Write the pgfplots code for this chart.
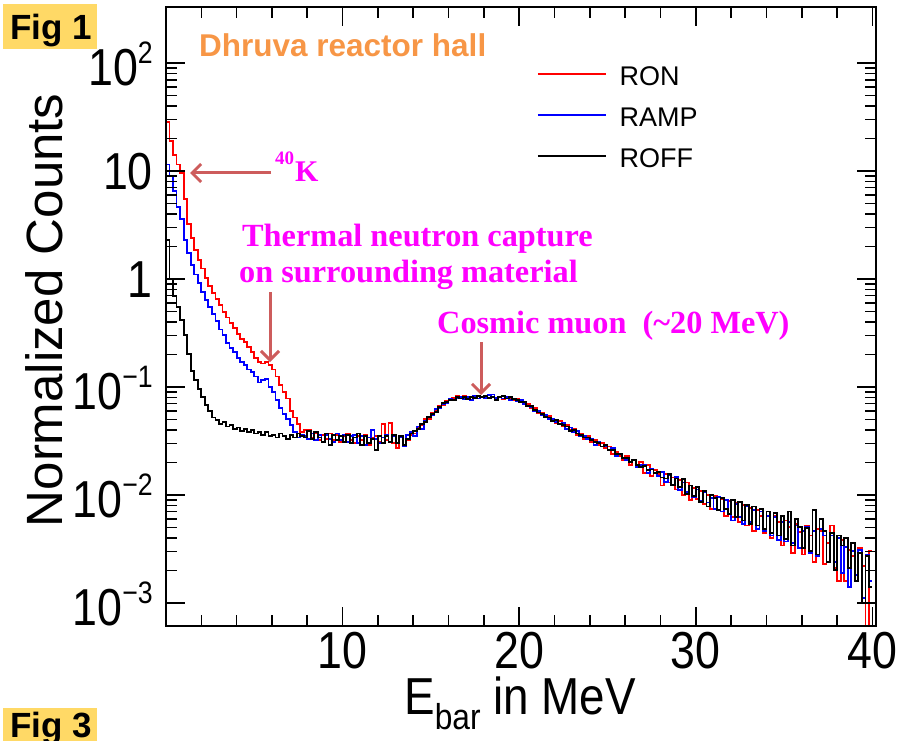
\documentclass[border=0pt]{standalone}
\usepackage{fontspec}
\setmainfont{Liberation Sans}
\newfontfamily\tms{Liberation Serif}
\usepackage{pgfplots}
\pgfplotsset{compat=1.18}
\usepackage{pgfplotstable}
\usetikzlibrary{arrows.meta}
\definecolor{ronred}{RGB}{255,0,0}
\definecolor{rampblue}{RGB}{0,0,255}
\definecolor{arrowc}{RGB}{205,92,92}
\definecolor{annmag}{RGB}{255,0,255}
\definecolor{dhorange}{RGB}{247,150,70}
\definecolor{figyel}{RGB}{255,217,102}
\newcommand\nlab[1]{\scalebox{0.86}[1]{#1}}
\newcommand\elab[1]{\raisebox{-4pt}{\scalebox{0.86}[1]{10\raisebox{22pt}{\fontsize{31}{34}\selectfont #1}}}}

\pgfplotstableread{
E ron ramp roff
0.0 28.5 11.5 2.3
0.2 19 9.0 1.0
0.4 14 6.5 0.7
0.6 11.5 4.6 0.55
0.8 9.5 3.6 0.42
1.0 5.5 2.3 0.3
1.2 3.2 1.75 0.2
1.4 2.4 1.35 0.14
1.6 1.85 1.1 0.115
1.8 1.5 0.92 0.095
2.0 1.25 0.76 0.08
2.2 1.02 0.64 0.068
2.4 0.86 0.55 0.06
2.6 0.74 0.47 0.052
2.8 0.65 0.41 0.049
3.0 0.57 0.34 0.045
3.2 0.49 0.3 0.047
3.4 0.44 0.255 0.043
3.6 0.39 0.23 0.044
3.8 0.35 0.21 0.041
4.0 0.31 0.185 0.042
4.2 0.28 0.17 0.039
4.4 0.26 0.16 0.041
4.6 0.235 0.145 0.038
4.8 0.21 0.137 0.04
5.0 0.185 0.125 0.037
5.2 0.17 0.11 0.038
5.4 0.165 0.115 0.036
5.6 0.17 0.118 0.038
5.8 0.16 0.1 0.035
6.0 0.145 0.09 0.036
6.2 0.125 0.075 0.034
6.4 0.105 0.064 0.037
6.6 0.09 0.056 0.035
6.8 0.078 0.05 0.033
7.0 0.06 0.044 0.036
7.2 0.052 0.038 0.034
7.4 0.045 0.034 0.037
7.6 0.038 0.036 0.035
7.8 0.04 0.035 0.034
8.0 0.040 0.033 0.039
8.2 0.034 0.037 0.033
8.4 0.037 0.032 0.038
8.6 0.032 0.036 0.034
8.8 0.036 0.031 0.031
9.0 0.033 0.036 0.037
9.2 0.037 0.033 0.029
9.4 0.032 0.031 0.036
9.6 0.036 0.037 0.032
9.8 0.031 0.032 0.035
10.0 0.035 0.036 0.031
10.2 0.037 0.031 0.036
10.4 0.032 0.035 0.030
10.6 0.030 0.036 0.034
10.8 0.035 0.030 0.037
11.0 0.032 0.035 0.029
11.2 0.036 0.029 0.035
11.4 0.029 0.034 0.030
11.6 0.034 0.040 0.033
11.8 0.035 0.033 0.026
12.0 0.031 0.030 0.035
12.2 0.045 0.034 0.030
12.4 0.032 0.036 0.035
12.6 0.046 0.031 0.031
12.8 0.030 0.035 0.036
13.0 0.027 0.030 0.030
13.2 0.034 0.034 0.035
13.4 0.029 0.028 0.029
13.6 0.032 0.036 0.033
13.8 0.036 0.038 0.037
14.0 0.037 0.035 0.039
14.2 0.042 0.043 0.041
14.4 0.044 0.041 0.045
14.6 0.050 0.048 0.047
14.8 0.050 0.052 0.053
15.0 0.058 0.055 0.056
15.2 0.060 0.062 0.059
15.4 0.066 0.064 0.065
15.6 0.068 0.070 0.071
15.8 0.074 0.071 0.072
16.0 0.075 0.077 0.076
16.2 0.079 0.076 0.075
16.4 0.083 0.079 0.080
16.6 0.079 0.081 0.078
16.8 0.082 0.077 0.081
17.0 0.078 0.080 0.077
17.2 0.081 0.076 0.080
17.4 0.079 0.082 0.079
17.6 0.083 0.078 0.082
17.8 0.080 0.081 0.080
18.0 0.082 0.079 0.083
18.2 0.079 0.084 0.079
18.4 0.081 0.085 0.081
18.6 0.078 0.079 0.076
18.8 0.080 0.081 0.080
19.0 0.077 0.078 0.082
19.2 0.079 0.080 0.078
19.4 0.078 0.076 0.080
19.6 0.076 0.078 0.077
19.8 0.077 0.074 0.076
20.0 0.073 0.075 0.072
20.2 0.071 0.070 0.073
20.4 0.069 0.067 0.067
20.6 0.063 0.065 0.066
20.8 0.064 0.060 0.061
21.0 0.057 0.060 0.058
21.2 0.058 0.055 0.056
21.4 0.052 0.055 0.053
21.6 0.054 0.050 0.052
21.8 0.049 0.050 0.048
22.0 0.046 0.047 0.049
22.2 0.048 0.045 0.045
22.4 0.043 0.046 0.044
22.6 0.044 0.041 0.043
22.8 0.040 0.042 0.039
23.0 0.041 0.038 0.040
23.2 0.036 0.039 0.037
23.4 0.037 0.035 0.036
23.6 0.033 0.035 0.034
23.8 0.035 0.033 0.034
24.0 0.031 0.033 0.032
24.2 0.032 0.029 0.031
24.4 0.029 0.031 0.030
24.6 0.030 0.028 0.028
24.8 0.027 0.028 0.029
25.0 0.028 0.026 0.026
25.2 0.024 0.027 0.026
25.4 0.025 0.023 0.024
25.6 0.023 0.024 0.024
25.8 0.021 0.022 0.022
26.0 0.023 0.021 0.022
26.2 0.019 0.020 0.020
26.4 0.021 0.021 0.021
26.6 0.018 0.018 0.019
26.8 0.020 0.019 0.018
27.0 0.016 0.019 0.0185
27.2 0.019 0.016 0.0170
27.4 0.015 0.0175 0.0172
27.6 0.017 0.0160 0.0160
27.8 0.0155 0.0150 0.0163
28.0 0.0122 0.0162 0.0145
28.2 0.0155 0.0132 0.0142
28.4 0.0130 0.0152 0.0156
28.6 0.0145 0.0122 0.0124
28.8 0.0112 0.0146 0.0142
29.0 0.0138 0.0110 0.0118
29.2 0.0100 0.0130 0.0140
29.4 0.0130 0.0106 0.0102
29.6 0.0090 0.0122 0.0122
29.8 0.0116 0.0096 0.0098
30.0 0.0092 0.0112 0.0118
30.2 0.0108 0.0088 0.0086
30.4 0.0082 0.0106 0.0108
30.6 0.0100 0.0085 0.0078
30.8 0.0074 0.0094 0.0100
31.0 0.0098 0.0074 0.0094
31.2 0.0072 0.0096 0.0072
31.4 0.0092 0.0070 0.0094
31.6 0.0064 0.0090 0.0074
31.8 0.0088 0.0066 0.0066
32.0 0.0062 0.0058 0.0090
32.2 0.0084 0.0082 0.0062
32.4 0.0056 0.0062 0.0086
32.6 0.0080 0.0054 0.0058
32.8 0.0052 0.0078 0.0080
33.0 0.0076 0.0056 0.0054
33.2 0.0046 0.0072 0.0078
33.4 0.0072 0.0048 0.0052
33.6 0.0064 0.0070 0.0074
33.8 0.0044 0.0046 0.0048
34.0 0.0070 0.0064 0.0070
34.2 0.0040 0.0042 0.0044
34.4 0.0064 0.0062 0.0068
34.6 0.0056 0.0038 0.0042
34.8 0.0034 0.0056 0.0064
35.0 0.0058 0.0037 0.0039
35.2 0.0050 0.0056 0.0070
35.4 0.0029 0.0036 0.0034
35.6 0.0054 0.0052 0.0060
35.8 0.0045 0.0032 0.0050
36.0 0.0028 0.0046 0.0032
36.2 0.0052 0.0050 0.0049
36.4 0.0042 0.0029 0.0030
36.6 0.0024 0.0046 0.0072
36.8 0.0048 0.0027 0.0028
37.0 0.0046 0.0048 0.0060
37.2 0.0023 0.0042 0.0046
37.4 0.0036 0.0024 0.0024
37.6 0.0052 0.0042 0.0044
37.8 0.0021 0.0024 0.0020
38.0 0.0016 0.0040 0.0042
38.2 0.0038 0.0019 0.0034
38.4 0.0016 0.0033 0.0040
38.6 0.0031 0.0014 0.0021
38.8 0.0027 0.0030 0.0036
39.0 0.0018 0.0018 0.0016
39.2 0.0032 0.0031 0.0029
39.4 0.0022 0.0011 0.0010
39.6 0.0004 0.0028 0.0027
39.8 0.0030 0.0016 0.0014
40.0 0.0030 0.0016 0.0014
}\spec

\begin{document}
\begin{tikzpicture}
\useasboundingbox (-166pt,-114pt) rectangle (738pt,626pt);
\fill[figyel] (-163pt,577pt) rectangle (-69pt,622pt);
\node[anchor=base west, inner sep=0pt, font=\fontsize{35}{40}\selectfont\bfseries] at (-156pt,586pt) {Fig 1};
\fill[figyel] (-163pt,-125pt) rectangle (-69pt,-82pt);
\node[anchor=base west, inner sep=0pt, font=\fontsize{35}{40}\selectfont\bfseries] at (-156pt,-111pt) {Fig 3};
\begin{axis}[
  at={(0pt,0pt)}, anchor=south west,
  scale only axis, width=710pt, height=619pt,
  xmin=0, xmax=40.2, ymode=log, ymin=6.1e-4, ymax=330,
  xtick={0,10,20,30,40}, xticklabels={,\nlab{10},\nlab{20},\nlab{30},\nlab{40}},
  minor x tick num=4,
  ytick={0.001,0.01,0.1,1,10,100},
  yticklabels={\elab{−3},\elab{−2},\elab{−1},\nlab{1},\nlab{10},\elab{2}},
  tick align=inside,
  major tick length=19pt, minor tick length=11pt,
  every tick/.style={black, line width=1.6pt},
  axis line style={line width=2.6pt},
  axis on top,
  ticklabel style={font=\fontsize{52}{60}\selectfont},
  xticklabel style={anchor=north, inner sep=0pt, yshift=-6pt},
  yticklabel style={anchor=base east, inner sep=0pt, xshift=-13pt, yshift=-18.5pt},
  xlabel={\scalebox{0.88}[1]{E\raisebox{-15pt}{\fontsize{36}{40}\selectfont bar} in MeV}},
  ylabel={Normalized Counts},
  every axis x label/.style={at={(axis description cs:0.4986,0)}, anchor=base, yshift=-88pt, font=\fontsize{52}{60}\selectfont},
  every axis y label/.style={at={(axis description cs:-0.172,0.51)}, rotate=90, anchor=center, font=\fontsize{51}{60}\selectfont},
  legend style={draw=none, fill=none, at={(0.5225,0.9063)}, anchor=north west, inner sep=0pt,
    font=\fontsize{27}{30}\selectfont, row sep=21pt, column sep=13pt,
    nodes={inner sep=0pt, text height=20pt, text depth=0pt}},
  legend cell align=left,
  legend image code/.code={\draw[#1] (0pt,1pt) -- (68pt,1pt);},
]
\addplot[const plot, ronred, line width=1.8pt, forget plot] table[x=E, y=ron] {\spec};
\addplot[const plot, rampblue, line width=1.8pt, forget plot] table[x=E, y=ramp] {\spec};
\addplot[const plot, black, line width=1.8pt, forget plot] table[x=E, y=roff] {\spec};
\addlegendimage{ronred, line width=1.5pt}
\addlegendentry{RON}
\addlegendimage{rampblue, line width=1.5pt}
\addlegendentry{RAMP}
\addlegendimage{black, line width=1.5pt}
\addlegendentry{ROFF}
\end{axis}
\node[anchor=base west, inner sep=0pt, text=dhorange, font=\fontsize{31.5}{34}\selectfont\bfseries] at (33pt,569pt) {Dhruva reactor hall};
\draw[arrowc, line width=3pt, -{Straight Barb[length=9pt,width=18pt]}] (105pt,453pt) -- (24pt,453pt);
\draw[arrowc, line width=3pt, -{Straight Barb[length=9pt,width=18pt]}] (104pt,334pt) -- (104pt,264pt);
\draw[arrowc, line width=3pt, -{Straight Barb[length=9pt,width=18pt]}] (315pt,284pt) -- (315pt,231pt);
\node[anchor=base west, inner sep=0pt, text=annmag, font=\tms\bfseries] at (109pt,444pt) {\raisebox{17pt}{\fontsize{19}{20}\selectfont 40}\hspace{1pt}{\fontsize{30}{32}\selectfont K}};
\node[anchor=base west, inner sep=0pt, text=annmag, font=\tms\bfseries\fontsize{32.3}{34}\selectfont] at (76pt,380pt) {Thermal neutron capture};
\node[anchor=base west, inner sep=0pt, text=annmag, font=\tms\bfseries\fontsize{32.3}{34}\selectfont] at (73pt,344pt) {on surrounding material};
\node[anchor=base west, inner sep=0pt, text=annmag, font=\tms\bfseries\fontsize{32.3}{34}\selectfont] at (271pt,293pt) {Cosmic muon\ \ (\textasciitilde20 MeV)};
\end{tikzpicture}
\end{document}
